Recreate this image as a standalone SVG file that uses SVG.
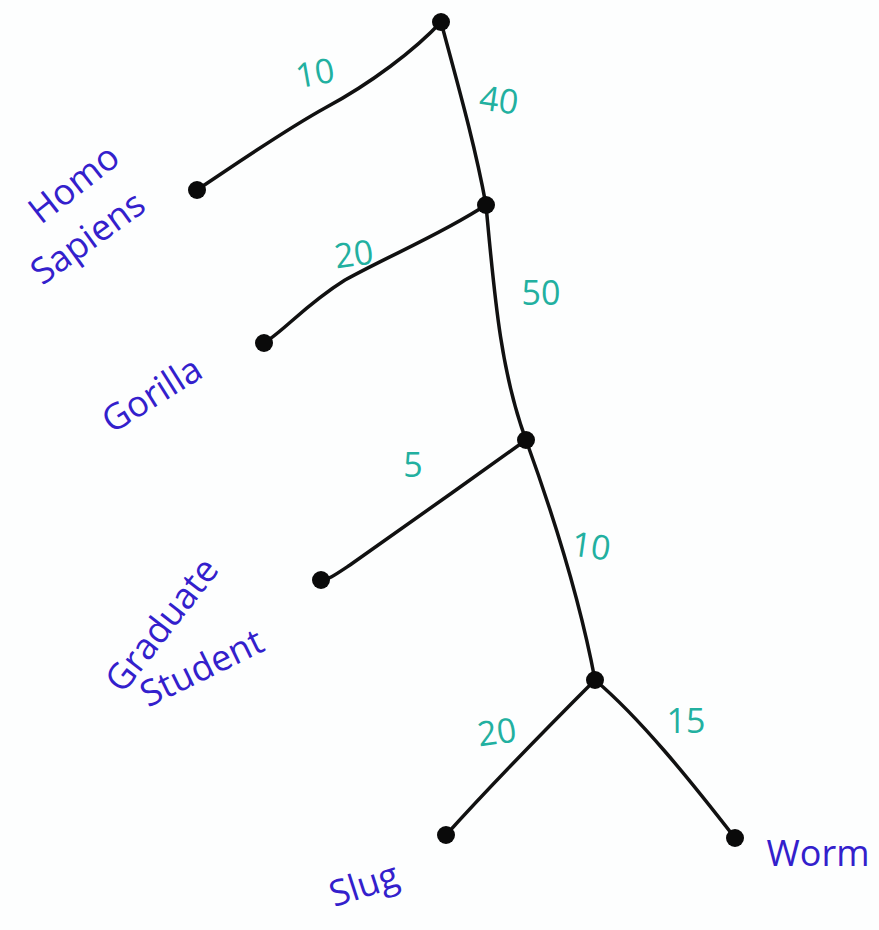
<svg xmlns="http://www.w3.org/2000/svg" width="879" height="930" viewBox="0 0 879 930">
<style>
.edge{fill:none;stroke:#111;stroke-width:3.5;stroke-linecap:round}
.dot{fill:#0a0a0a}
.w{font-family:"Open Sans","Liberation Sans",sans-serif;font-size:34px;fill:#22b0a0;text-anchor:middle}
.n{font-family:"Open Sans","Liberation Sans",sans-serif;font-size:36px;fill:#3320cc;text-anchor:middle}
</style>
<rect width="879" height="930" fill="#fdfefe"/>
<g id="edges">
<path class="edge" d="M197,190 C245,158 285,130 325,108 C370,84 415,50 441,22"/>
<path class="edge" d="M441,22 C458,85 475,145 486,205"/>
<path class="edge" d="M486,205 C440,235 390,255 345,280 C305,305 285,330 264,343"/>
<path class="edge" d="M486,205 C494,290 500,370 526,440"/>
<path class="edge" d="M526,440 C470,480 400,530 350,565 C335,575 328,580 321,580"/>
<path class="edge" d="M526,440 C555,520 580,600 595,680"/>
<path class="edge" d="M595,680 C555,720 500,775 446,835"/>
<path class="edge" d="M595,680 C640,718 690,780 735,838"/>
</g>
<g id="w1"><text class="w" x="315" y="85" transform="rotate(-10 315 73)">10</text></g>
<g id="w2"><text class="w" x="499" y="112" transform="rotate(8 499 100)">40</text></g>
<g id="w3"><text class="w" x="354" y="266" transform="rotate(-8 354 255)">20</text></g>
<g id="w4"><text class="w" x="541" y="305">50</text></g>
<g id="w5"><text class="w" x="413" y="477">5</text></g>
<g id="w6"><text class="w" x="591" y="558" transform="rotate(8 591 547)">10</text></g>
<g id="w7"><text class="w" x="497" y="744" transform="rotate(-8 497 733)">20</text></g>
<g id="w8"><text class="w" x="686" y="733">15</text></g>
<g id="root"><circle class="dot" cx="441" cy="22" r="9"/></g>
<g id="homo-sapiens"><circle class="dot" cx="197" cy="190" r="9"/>
<text class="n" x="74" y="196" transform="rotate(-38 74 184)">Homo</text>
<text class="n" x="88" y="250" transform="rotate(-36 88 238)">Sapiens</text></g>
<g id="n1"><circle class="dot" cx="486" cy="205" r="9"/></g>
<g id="gorilla"><circle class="dot" cx="264" cy="343" r="9"/>
<text class="n" x="152" y="407" transform="rotate(-32 152 395)">Gorilla</text></g>
<g id="n2"><circle class="dot" cx="526" cy="440" r="9"/></g>
<g id="graduate-student"><circle class="dot" cx="321" cy="580" r="9"/>
<text class="n" x="162" y="637" transform="rotate(-52 162 625)">Graduate</text>
<text class="n" x="202" y="680" transform="rotate(-26 202 668)">Student</text></g>
<g id="n3"><circle class="dot" cx="595" cy="680" r="9"/></g>
<g id="slug"><circle class="dot" cx="446" cy="835" r="9"/>
<text class="n" x="364" y="897" transform="rotate(-18 364 885)">Slug</text></g>
<g id="worm"><circle class="dot" cx="735" cy="838" r="9"/>
<text class="n" x="818" y="866">Worm</text></g>
</svg>
